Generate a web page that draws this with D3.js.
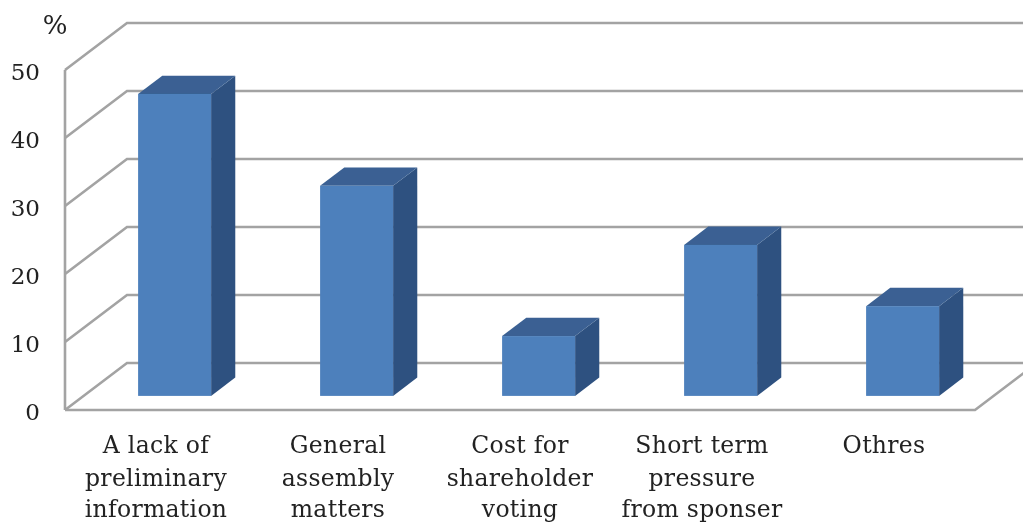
<!DOCTYPE html>
<html><head><meta charset="utf-8">
<script src="https://cdn.jsdelivr.net/npm/d3@7/dist/d3.min.js"></script>
<style>html,body{margin:0;padding:0;background:#fff}svg{display:block}
text{font-family:"DejaVu Serif",serif;fill:#222}</style></head>
<body><svg id="c" width="1023" height="524"></svg>
<script>
const categories = [["A lack of","preliminary","information"],["General","assembly","matters"],["Cost for","shareholder","voting"],["Short term","pressure","from sponser"],["Othres"]];
const values = [44.4, 30.9, 8.8, 22.2, 13.2];
const yTicks = [0,10,20,30,40,50];

const svg = d3.select("#c");
const x = d3.scaleBand().domain(d3.range(values.length)).range([65,975]);
const y = d3.scaleLinear().domain([0,50]).range([410,70]);
const depthX = d3.scaleLinear().domain([0,1]).range([0,62]);
const depthY = d3.scaleLinear().domain([0,1]).range([0,-47]);
const P = (px,v,d)=>[px+depthX(d), y(v)+depthY(d)];
const line = d3.line();
const grey = "#a3a3a3";

svg.append("defs").append("filter").attr("id","soft")
  .append("feGaussianBlur").attr("stdDeviation",0.6);
const root = svg.append("g").attr("filter","url(#soft)");

const walls = root.append("g").attr("fill","none").attr("stroke",grey).attr("stroke-width",2.6);
yTicks.forEach(t=>{
  walls.append("path").attr("d",line([P(65,t,0),P(65,t,1),P(1040,t,1)]));
});
walls.append("path").attr("d",line([P(65,0,0),P(65,50,0)]));
walls.append("path").attr("d",line([P(65,0,0),P(975,0,0),P(975,0,1)]));

const front=0.3, back=0.69, barW=73;
values.forEach((v,i)=>{
  const c = x(i)+x.bandwidth()/2, l=c-barW/2, r=c+barW/2;
  const g = root.append("g");
  g.append("path").attr("fill","#2f5180").attr("d",line([P(r,0,front),P(r,0,back),P(r,v,back),P(r,v,front)])+"Z");
  g.append("path").attr("fill","#3a6193").attr("d",line([P(l,v,front),P(r,v,front),P(r,v,back),P(l,v,back)])+"Z");
  const a=P(l,v,front), b=P(r,0,front);
  g.append("rect").attr("x",a[0]).attr("y",a[1]).attr("width",b[0]-a[0]).attr("height",b[1]-a[1]).attr("fill","#4e80bc");
});

const axis = root.append("g").attr("transform","translate(40,1)")
  .call(d3.axisLeft(y).tickValues(yTicks).tickSize(0).tickPadding(0));
axis.select(".domain").remove();
axis.selectAll("text").attr("font-size",23).attr("dy","0.36em").style("font-family",'"DejaVu Serif",serif').attr("fill","#222");

root.append("text").attr("x",55).attr("y",34).attr("text-anchor","middle").attr("font-size",26).text("%");

const rowY=[453,486,517];
categories.forEach((lines,i)=>{
  const c=x(i)+x.bandwidth()/2;
  lines.forEach((s,j)=>{
    root.append("text").attr("x",c).attr("y",rowY[j]).attr("text-anchor","middle")
      .attr("font-size",23.5).attr("letter-spacing",0.3).text(s);
  });
});
</script></body></html>
